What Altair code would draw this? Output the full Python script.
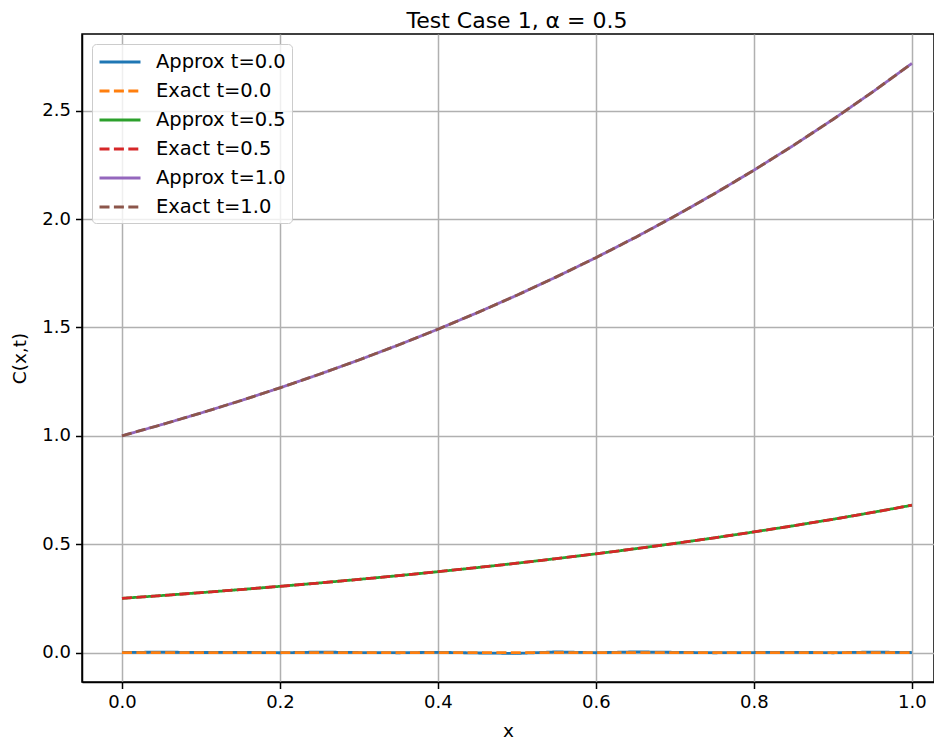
import altair as alt
import pandas as pd

x_vals = [0.0, 0.05, 0.1, 0.15, 0.2, 0.25, 0.3, 0.35, 0.4, 0.45, 0.5,
          0.55, 0.6, 0.65, 0.7, 0.75, 0.8, 0.85, 0.9, 0.95, 1.0]

approx_t00 = [0.0, 0.002, 0.0, 0.001, -0.001, 0.002, 0.0, -0.001, 0.001, -0.002, -0.004,
              0.003, -0.001, 0.003, 0.001, -0.001, 0.0, 0.001, -0.001, 0.002, 0.0]
exact_t00 = [0.0] * 21
approx_t05 = [0.25, 0.2628, 0.2763, 0.2905, 0.3054, 0.321, 0.3375, 0.3548, 0.373, 0.3921, 0.4122,
              0.4333, 0.4555, 0.4789, 0.5034, 0.5293, 0.5564, 0.5849, 0.6149, 0.6464, 0.6796]
exact_t05 = [0.25, 0.2628, 0.2763, 0.2905, 0.3054, 0.321, 0.3375, 0.3548, 0.373, 0.3921, 0.4122,
             0.4333, 0.4555, 0.4789, 0.5034, 0.5293, 0.5564, 0.5849, 0.6149, 0.6464, 0.6796]
approx_t10 = [1.0, 1.0513, 1.1052, 1.1618, 1.2214, 1.284, 1.3499, 1.4191, 1.4918, 1.5683, 1.6487,
              1.7333, 1.8221, 1.9155, 2.0138, 2.117, 2.2255, 2.3396, 2.4596, 2.5857, 2.7183]
exact_t10 = [1.0, 1.0513, 1.1052, 1.1618, 1.2214, 1.284, 1.3499, 1.4191, 1.4918, 1.5683, 1.6487,
             1.7333, 1.8221, 1.9155, 2.0138, 2.117, 2.2255, 2.3396, 2.4596, 2.5857, 2.7183]

series_names = ["Approx t=0.0", "Exact t=0.0", "Approx t=0.5",
                "Exact t=0.5", "Approx t=1.0", "Exact t=1.0"]
series_values = [approx_t00, exact_t00, approx_t05, exact_t05, approx_t10, exact_t10]
series_colors = ["#1f77b4", "#ff7f0e", "#2ca02c", "#d62728", "#9467bd", "#8c564b"]
series_dashes = [[1, 0], [10, 4.4], [1, 0], [10, 4.4], [1, 0], [10, 4.4]]

x_ticks = [0.0, 0.2, 0.4, 0.6, 0.8, 1.0]
y_ticks = [0.0, 0.5, 1.0, 1.5, 2.0, 2.5]

rows = []
for i, (name, vals) in enumerate(zip(series_names, series_values)):
    for xv, yv in zip(x_vals, vals):
        rows.append({"x": xv, "C": yv, "series": name, "order": i})
df = pd.DataFrame(rows)

FONT = "DejaVu Sans"

legend = alt.Legend(
    title=None, orient="none", legendX=10, legendY=10,
    symbolType="M-2,0H2", symbolSize=420, symbolStrokeWidth=2.8, symbolOffset=10,
    labelFont=FONT, labelFontSize=19.5, labelColor="black", labelOffset=24,
    fillColor="rgba(255,255,255,0.8)", strokeColor="#cccccc", cornerRadius=4,
    padding=6, rowPadding=7,
)

chart = alt.Chart(df).mark_line(strokeWidth=2.8, clip=True).encode(
    x=alt.X("x:Q", scale=alt.Scale(domain=[-0.0506, 1.028], nice=False, zero=False),
            axis=alt.Axis(values=x_ticks, format=".1f", title="x")),
    y=alt.Y("C:Q", scale=alt.Scale(domain=[-0.136, 2.854], nice=False, zero=False),
            axis=alt.Axis(values=y_ticks, format=".1f", title="C(x,t)")),
    color=alt.Color("series:N", scale=alt.Scale(domain=series_names, range=series_colors),
                    legend=legend),
    strokeDash=alt.StrokeDash("series:N", scale=alt.Scale(domain=series_names, range=series_dashes),
                              legend=legend),
    order=alt.Order("order:Q"),
).properties(
    width=852, height=648,
    title=alt.TitleParams("Test Case 1, α = 0.5", font=FONT, fontSize=22, fontWeight="normal",
                          color="black", anchor="middle", offset=1, dx=9),
    autosize=alt.AutoSizeParams(type="none"),
    padding={"left": 74, "top": 26, "right": 0, "bottom": 60},
).configure_view(
    stroke="black", strokeWidth=1.5
).configure_axis(
    labelFont=FONT, labelFontSize=18, labelColor="black",
    titleFont=FONT, titleFontSize=18.5, titleColor="black", titleFontWeight="normal",
    grid=True, gridColor="#b0b0b0", gridWidth=1.5,
    domainColor="black", domainWidth=1.5,
    tickColor="black", tickWidth=1.5, tickSize=6.5, labelPadding=5,
).configure_axisX(
    titlePadding=10
).configure_axisY(
    titlePadding=12
)

chart.save("out.html", embed_options={"renderer": "svg", "actions": False})
